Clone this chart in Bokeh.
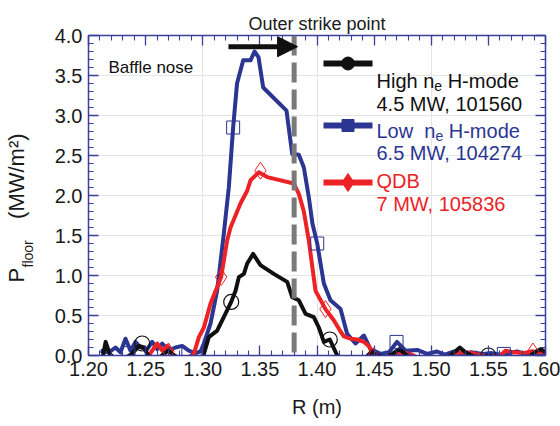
import math
from bokeh.plotting import figure
from bokeh.models import (Range1d, LinearAxis, SingleIntervalTicker, NumeralTickFormatter,
                          CustomJSTickFormatter, Label, Span, Arrow, NormalHead, Title)
from bokeh.embed import file_html
from bokeh.resources import INLINE

# ---------------- data ----------------
r_low = [1.2105, 1.2178, 1.2236, 1.2280, 1.2324, 1.2368, 1.2411, 1.2455, 1.2514, 1.2557,
         1.2601, 1.2645, 1.2703, 1.2761, 1.2820, 1.2878, 1.2937, 1.2980, 1.3010, 1.3068,
         1.3126, 1.3184, 1.3228, 1.3266, 1.3300, 1.3354, 1.3418, 1.3453, 1.3488, 1.3529,
         1.3733, 1.3783, 1.3841, 1.3885, 1.3928, 1.3960, 1.4002, 1.4060, 1.4118, 1.4206,
         1.4264, 1.4337, 1.4410, 1.4468, 1.4556, 1.4630, 1.4700, 1.4775, 1.4877, 1.4964,
         1.5050, 1.5120, 1.5200, 1.5280, 1.5350, 1.5450, 1.5530, 1.5600, 1.5680, 1.5750,
         1.5820, 1.5880, 1.5950, 1.6000]
p_low = [0.06, 0.04, 0.10, 0.04, 0.21, 0.06, 0.17, 0.10, 0.08, 0.17,
         0.08, 0.15, 0.06, 0.10, 0.12, 0.06, 0.03, 0.05, 0.15, 0.40,
         0.81, 1.52, 2.10, 2.85, 3.40, 3.69, 3.69, 3.80, 3.73, 3.35,
         3.06, 2.52, 2.51, 2.35, 1.98, 1.65, 1.40, 0.90, 0.69, 0.58,
         0.27, 0.15, 0.25, 0.08, 0.02, 0.04, 0.17, 0.06, 0.07, 0.02,
         0.05, 0.01, 0.05, 0.02, 0.04, 0.02, 0.03, 0.01, 0.03, 0.05,
         0.02, 0.05, 0.02, 0.04]
r_low_mk = [1.2350, 1.2760, 1.3266, 1.4002, 1.4696, 1.5635]
p_low_mk = [0.03, 0.02, 2.85, 1.40, 0.17, 0.02]

r_qdb = [1.2520, 1.2557, 1.2601, 1.2645, 1.2690, 1.2733, 1.2780, 1.2850, 1.2922, 1.2966,
         1.3010, 1.3068, 1.3161, 1.3214, 1.3243, 1.3330, 1.3389, 1.3418, 1.3490, 1.3564,
         1.3797, 1.3841, 1.3885, 1.3928, 1.3987, 1.4074, 1.4147, 1.4206, 1.4235, 1.4293,
         1.4352, 1.4410, 1.4453, 1.4497, 1.4550, 1.4650, 1.4720, 1.4800, 1.4870, 1.5000,
         1.5150, 1.5200, 1.5300, 1.5400, 1.5500, 1.5600, 1.5650, 1.5720, 1.5800, 1.5880,
         1.5950, 1.6000]
p_qdb = [-0.02, 0.06, 0.15, 0.06, 0.12, 0.02, -0.03, -0.04, 0.02, 0.23,
         0.35, 0.65, 0.98, 1.44, 1.60, 1.90, 2.06, 2.19, 2.29, 2.23,
         2.15, 2.02, 1.80, 1.44, 0.81, 0.58, 0.44, 0.30, 0.24, 0.21,
         0.20, 0.17, 0.12, 0.00, -0.03, -0.03, 0.02, 0.03, -0.02, -0.03,
         -0.02, 0.03, 0.04, 0.02, -0.02, -0.01, 0.06, 0.04, 0.03, 0.05,
         0.04, 0.05]
r_qdb_mk = [1.2700, 1.3161, 1.3505, 1.4074, 1.4490, 1.5890]
p_qdb_mk = [0.05, 0.98, 2.31, 0.58, -0.01, 0.05]

r_high = [1.2120, 1.2150, 1.2185, 1.2225, 1.2300, 1.2380, 1.2440, 1.2485, 1.2530, 1.2600,
          1.2660, 1.2700, 1.2750, 1.2820, 1.2900, 1.2970, 1.3010, 1.3053, 1.3126, 1.3184,
          1.3249, 1.3287, 1.3316, 1.3360, 1.3389, 1.3441, 1.3505, 1.3622, 1.3739, 1.3783,
          1.3841, 1.3900, 1.3972, 1.4016, 1.4060, 1.4112, 1.4177, 1.4250, 1.4350, 1.4430,
          1.4480, 1.4530, 1.4600, 1.4660, 1.4720, 1.4780, 1.4850, 1.5000, 1.5150, 1.5210,
          1.5250, 1.5300, 1.5380, 1.5450, 1.5500, 1.5550, 1.5650, 1.5750, 1.5850, 1.5920,
          1.5960, 1.6000]
p_high = [-0.05, 0.17, 0.02, -0.03, -0.05, 0.02, 0.12, 0.10, -0.02, -0.05,
          0.02, 0.06, 0.00, -0.05, -0.05, -0.06, 0.02, 0.23, 0.31, 0.48,
          0.67, 0.81, 0.98, 1.02, 1.15, 1.27, 1.13, 1.02, 0.92, 0.73,
          0.69, 0.52, 0.48, 0.35, 0.17, 0.20, 0.00, -0.10, -0.05, -0.02,
          0.05, 0.00, -0.03, 0.02, 0.08, 0.01, -0.05, -0.05, -0.02, 0.05,
          0.10, 0.04, -0.02, -0.02, 0.00, -0.02, -0.05, -0.03, -0.02, 0.05,
          0.08, 0.04]
r_high_mk = [1.2470, 1.3249, 1.4112, 1.5500]
p_high_mk = [0.15, 0.67, 0.20, 0.00]

strike_point_r = 1.38           # outer strike point (dashed line)
arrow_r = [1.3225, 1.3830]      # arrow start / end
arrow_p = 3.86

x_range = (1.20, 1.60)
y_range = (0.0, 4.0)
x_tick_step = 0.05
y_tick_step = 0.5

title_text = "Outer strike point"
baffle_text = "Baffle nose"
legend_lines = [
    [[("High n", "n"), ("e", "sub"), (" H-mode", "n")], [("4.5 MW, 101560", "n")]],
    [[("Low", "n"), ("  n", "n"), ("e", "sub"), (" H-mode", "n")], [("6.5 MW, 104274", "n")]],
    [[("QDB", "n")], [("7 MW, 105836", "n")]],
]
NBSP = "\u00a0"
ylabel_main = "P" + NBSP * 8 + "(MW/m\u00b2)"
ylabel_sub = "floor" + NBSP * 30
xlabel_text = "R (m)"

assert len(r_low) == len(p_low) and len(r_qdb) == len(p_qdb) and len(r_high) == len(p_high)

# ---------------- style / layout ----------------
FONT = "Liberation Sans"
BLUE = "#2b3592"
RED = "#ec2227"
BLACK = "#101010"
AXIS = "#3b3f9c"
GRAY = "#7a7a7a"
TXT = "#1a1a1a"

W, H = 560, 426
# frame edges in picture pixels
FL, FR, FT, FB = 88, 545, 35, 355

def dx(px):
    return x_range[0] + (px - FL) * (x_range[1] - x_range[0]) / (FR - FL)

def dy(py):
    return y_range[1] - (py - FT) * (y_range[1] - y_range[0]) / (FB - FT)

ARIAL = {' ': .278, '(': .333, ')': .333, ',': .278, '-': .333, '.': .278, '/': .278,
         'B': .667, 'D': .722, 'H': .722, 'L': .556, 'M': .833, 'P': .667, 'Q': .778,
         'R': .722, 'W': .944, 'a': .556, 'd': .556, 'e': .556, 'f': .278, 'g': .556,
         'h': .556, 'i': .222, 'l': .222, 'm': .833, 'n': .556, 'o': .556, 'r': .333,
         's': .5, 'w': .722}

def tw(text, size):
    return sum(ARIAL.get(c, .556) for c in text) * size

p = figure(width=W, height=H, output_backend="svg", toolbar_location=None,
           x_range=Range1d(*x_range), y_range=Range1d(*y_range),
           x_axis_location=None, y_axis_location=None,
           min_border_left=FL, min_border_right=W - FR,
           min_border_top=FT, min_border_bottom=H - FB)
p.outline_line_color = None
p.background_fill_color = "white"
p.border_fill_color = "white"

p.title.text = title_text
p.title.align = "center"
p.title.vertical_align = "top"
p.title.text_font = FONT
p.title.text_font_size = "18px"
p.title.text_font_style = "normal"
p.title.text_color = TXT
p.title.standoff = 0

xt = SingleIntervalTicker(interval=x_tick_step, num_minor_ticks=5)
yt = SingleIntervalTicker(interval=y_tick_step, num_minor_ticks=5)

def make_axis(ticker, fmt, show):
    formatter = NumeralTickFormatter(format=fmt) if show else CustomJSTickFormatter(code="return ''")
    ax = LinearAxis(ticker=ticker, formatter=formatter)
    ax.axis_line_color = AXIS
    ax.axis_line_width = 1.5
    ax.major_tick_line_color = AXIS
    ax.minor_tick_line_color = AXIS
    ax.major_tick_line_width = 1.3
    ax.minor_tick_line_width = 1.1
    ax.major_tick_in = 10
    ax.major_tick_out = 0
    ax.minor_tick_in = 5
    ax.minor_tick_out = 0
    ax.major_label_text_font = FONT
    ax.major_label_text_color = TXT
    ax.axis_label_text_font = FONT
    ax.axis_label_text_font_style = "normal"
    ax.axis_label_text_color = TXT
    if show:
        ax.major_label_text_font_size = "20px"
        ax.major_label_standoff = 6
    else:
        ax.major_label_text_font_size = "1px"
        ax.major_label_standoff = 0
    return ax

xaxis = make_axis(xt, "0.00", True)
xaxis.axis_label = xlabel_text
xaxis.axis_label_text_font_size = "20px"
xaxis.axis_label_standoff = 17
p.add_layout(xaxis, "below")
p.add_layout(make_axis(xt, "0.00", False), "above")

yaxis = make_axis(yt, "0.0", True)
yaxis.axis_label = ylabel_sub            # subscript part of "P_floor"
yaxis.axis_label_text_font_size = "14px"
yaxis.axis_label_standoff = 16
p.add_layout(yaxis, "left")
p.add_layout(make_axis(yt, "0.0", False), "right")

ytitle = Title(text=ylabel_main, align="left", offset=73, vertical_align="bottom",
               text_font=FONT, text_font_size="22px", text_font_style="normal",
               text_color=TXT)
try:
    ytitle.standoff = -24
except Exception:
    ytitle.standoff = 0
p.add_layout(ytitle, "left")

# strike point dashed line
p.add_layout(Span(location=strike_point_r, dimension="height", line_color=GRAY,
                  line_width=5, line_dash="20 7"))

# curves
p.line(r_low, p_low, line_color=BLUE, line_width=4, line_join="round")
p.line(r_qdb, p_qdb, line_color=RED, line_width=4, line_join="round")
p.line(r_high, p_high, line_color=BLACK, line_width=4, line_join="round")
p.scatter(r_low_mk, p_low_mk, marker="square", size=13, fill_color=None, line_color=BLUE, line_width=1)
p.scatter(r_qdb_mk, p_qdb_mk, marker="diamond", size=17, fill_color=None, line_color=RED, line_width=1)
p.scatter(r_high_mk, p_high_mk, marker="circle", size=15, fill_color=None, line_color=BLACK, line_width=1.2)

# arrow
p.add_layout(Arrow(end=NormalHead(size=20, fill_color=BLACK, line_color=BLACK),
                   x_start=arrow_r[0], y_start=arrow_p, x_end=arrow_r[1], y_end=arrow_p,
                   line_color=BLACK, line_width=5))

def label(px, py, text, size, color=BLACK, align="left", xo=0.0, yo=0.0):
    p.add_layout(Label(x=dx(px), y=dy(py), x_offset=xo, y_offset=yo, text=text,
                       text_font=FONT, text_font_size=f"{size}px", text_color=color,
                       text_align=align, text_baseline="alphabetic"))

def rich(px, py, pieces, size, color=BLACK):
    sub = round(size * 0.7)
    off = 0.0
    for text, kind in pieces:
        s = size if kind == "n" else sub
        lead = len(text) - len(text.lstrip(" "))
        off += tw(" " * lead, s)
        t = text.lstrip(" ")
        shift = {"n": 0, "sub": -5, "sup": 8}[kind]
        label(px, py, t, s, color, xo=off, yo=shift)
        off += tw(t, s)

# texts inside the frame
label(108, 67, baffle_text, 17)

# legend (manually drawn)
leg_colors = [BLACK, BLUE, RED]
leg_markers = ["circle", "square", "diamond"]
leg_msize = [13, 12, 18]
leg_line_py = [63, 125, 182]
leg_text_py = [(80, 103), (130, 152), (180, 203)]
for c, m, ms, ly, tys, lines in zip(leg_colors, leg_markers, leg_msize, leg_line_py,
                                    leg_text_py, legend_lines):
    p.line([dx(323), dx(372)], [dy(ly), dy(ly)], line_color=c, line_width=6)
    p.scatter([dx(347.5)], [dy(ly)], marker=m, size=ms, fill_color=c, line_color=c)
    for ty, pieces in zip(tys, lines):
        rich(376, ty, pieces, 20, color=c)

open("out.html", "w").write(file_html(p, INLINE))
